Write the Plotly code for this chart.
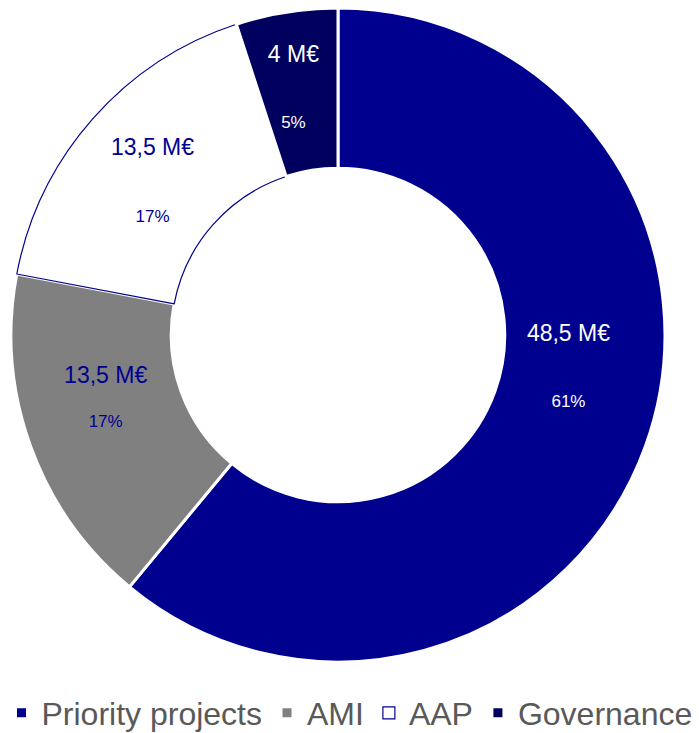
import plotly.graph_objects as go

categories = ["Priority projects", "AMI", "AAP", "Governance"]
values = [48.5, 13.5, 13.5, 4]

# styles
slice_colors = ["#00008F", "#808080", "#FFFFFF", "#00005E"]
line_colors = ["#FFFFFF", "#FFFFFF", "#00008F", "#FFFFFF"]
line_widths = [3, 3, 1.2, 3]
text_colors = ["#FFFFFF", "#00008F", "#00008F", "#FFFFFF"]
# label layout per slice: blank lines before, line breaks between amount and percent, blank lines after
lead_lines = [4, 0, 1, 3]
gap_breaks = [3, 2, 3, 3]
trail_lines = [1, 2, 0, 0]

amount_labels = [("%g" % v).replace(".", ",") + " M€" for v in values]

NB = "\u00a0"
templates = []
for k, g, m in zip(lead_lines, gap_breaks, trail_lines):
    templates.append(
        (NB + "<br>") * k
        + "<span style='font-size:23px'>%{customdata}</span>"
        + "<br>" * g
        + "<span style='font-size:17px'>%{percent:.0%}</span>"
        + ("<br>" + NB) * m
    )

fig = go.Figure(
    go.Pie(
        labels=categories,
        values=values,
        customdata=amount_labels,
        hole=0.51,
        sort=False,
        direction="clockwise",
        rotation=0,
        marker=dict(colors=slice_colors, line=dict(color=line_colors, width=line_widths)),
        texttemplate=templates,
        textposition="inside",
        insidetextorientation="horizontal",
        textfont=dict(family="Arial, Liberation Sans", size=17, color=text_colors),
        domain=dict(x=[0.0157, 0.9514], y=[0.0969, 0.989]),
        showlegend=True,
    )
)

fig.update_layout(
    width=699,
    height=733,
    margin=dict(l=0, r=0, t=0, b=0, autoexpand=False),
    paper_bgcolor="white",
    plot_bgcolor="white",
    uniformtext=dict(mode="show", minsize=17),
    legend=dict(
        orientation="h",
        x=0.5,
        xanchor="center",
        y=0.0273,
        yanchor="middle",
        font=dict(family="Arial, Liberation Sans", size=32, color="#595959"),
        traceorder="normal",
    ),
)

fig.write_html("out.html")
